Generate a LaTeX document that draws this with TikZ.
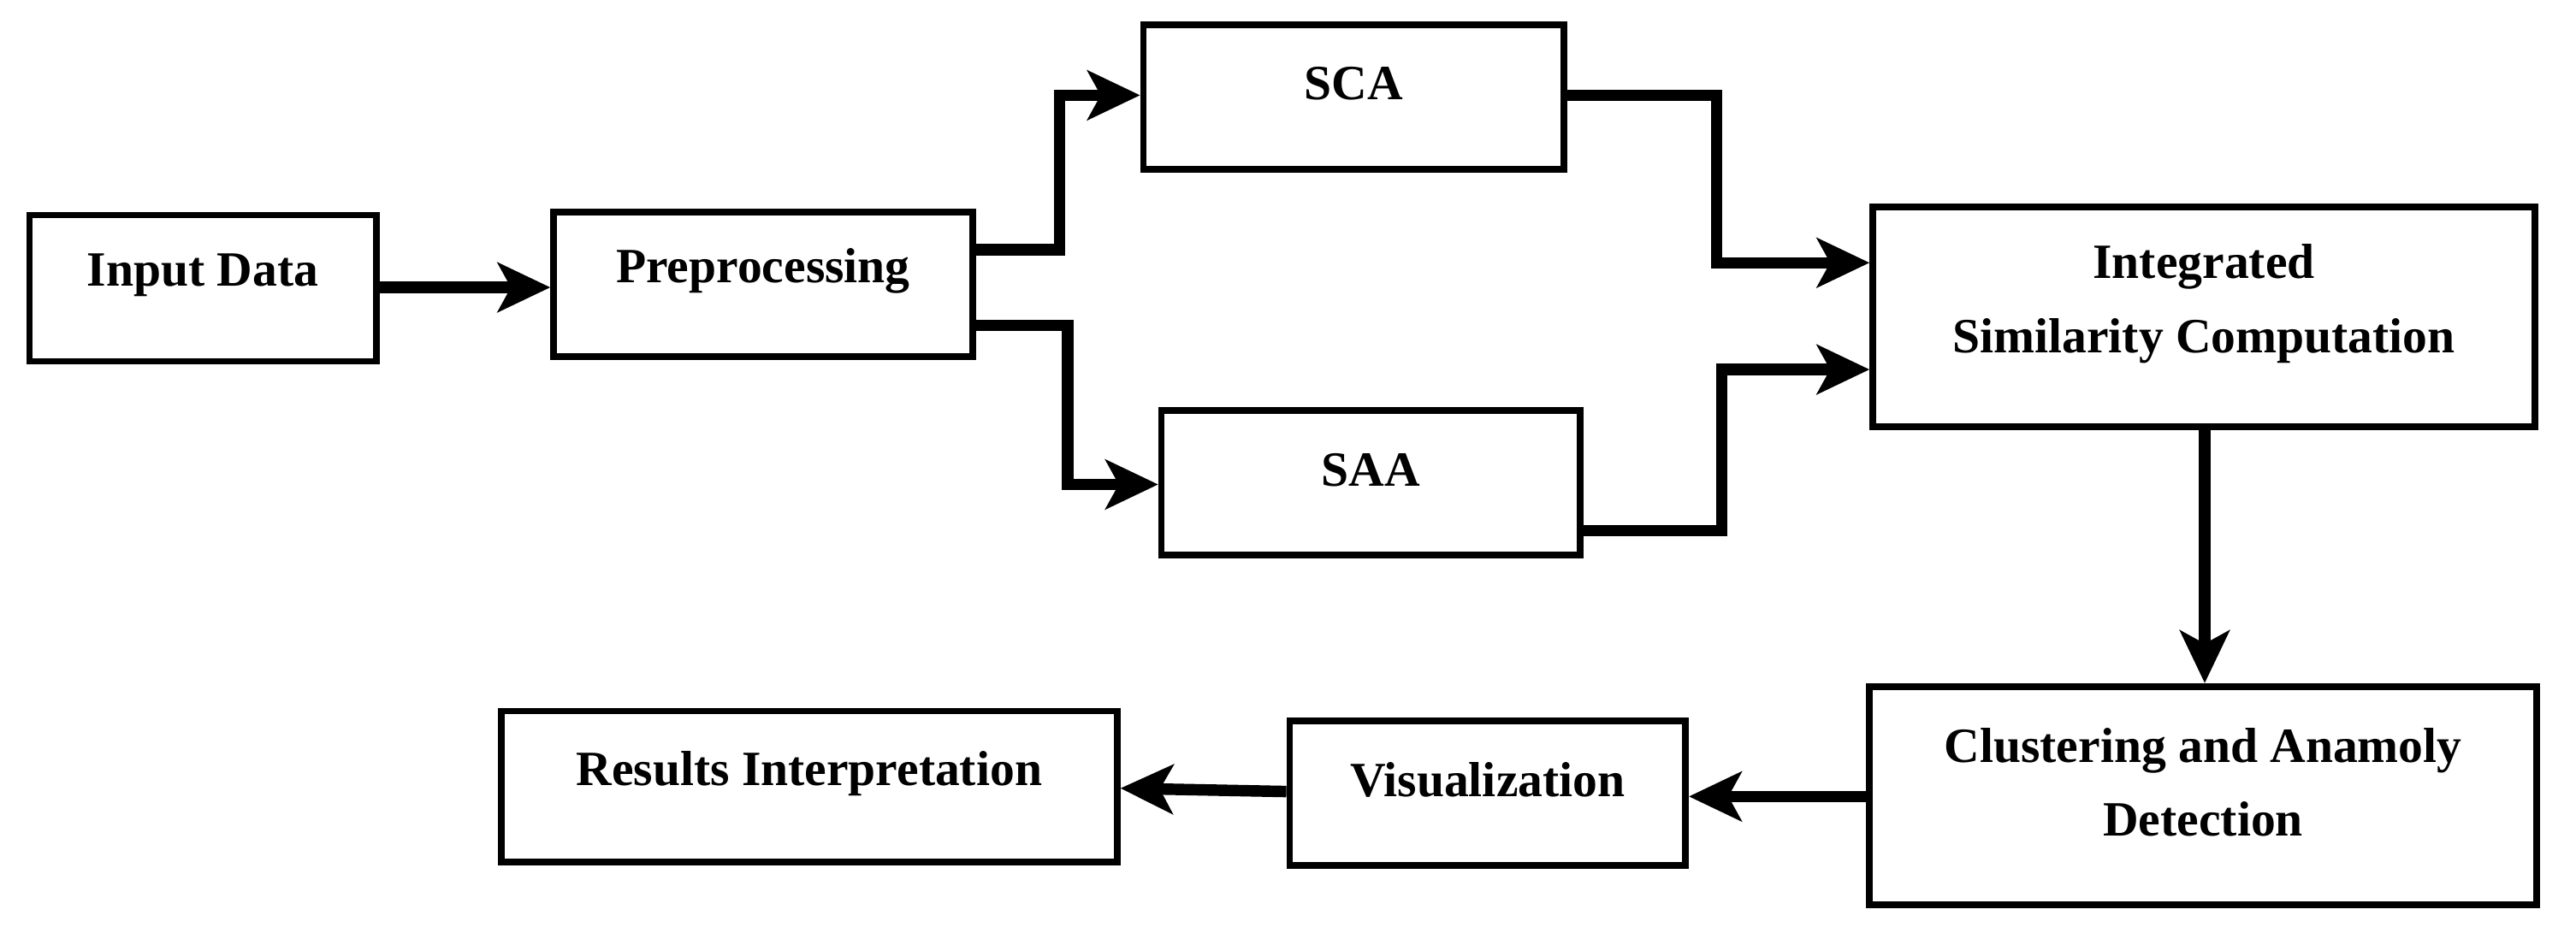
\documentclass[tikz,border=0pt]{standalone}
\usepackage{fontspec}
\setmainfont{Liberation Serif}
\usetikzlibrary{arrows.meta}
\begin{document}
\begin{tikzpicture}[x=0.5pt,y=-0.5pt,
 box/.style={draw,line width=2pt,inner sep=0pt},
 txt/.style={font=\bfseries\fontsize{15}{22.5}\selectfont,align=center,inner sep=0pt},
 ar/.style={line width=3.5pt,-{Stealth[length=16pt,width=15pt,inset=4pt]}}]
\useasboundingbox (0,0) rectangle (1568,568);
\def\bx#1#2#3#4#5#6{\node[box,minimum width=(#4-#2)*0.5pt,minimum height=(#5-#3)*0.5pt] (#1) at ({(#2+#4)/2},{(#3+#5)/2}) {};
 \node[txt] (#1t) at ([yshift=4pt]#1.center) {#6};}
\bx{in}{18}{131}{229}{220}{Input Data}
\bx{pre}{337}{129}{592}{217}{Preprocessing}
\bx{sca}{696}{15}{952}{103}{SCA}
\bx{saa}{707}{250}{962}{338}{SAA}
\bx{int}{1140}{126}{1543}{260}{Integrated\\Similarity Computation}
\bx{clu}{1138}{418}{1544}{551}{Clustering and Anamoly\\Detection}
\bx{vis}{785}{439}{1026}{527}{Visualization}
\bx{res}{305}{433}{680}{525}{Results Interpretation}
\draw[ar] (in.east|-0,175) -- (pre.west|-0,175);
\draw[ar] (pre.east|-0,152) -| (645,58) -- (sca.west|-0,58);
\draw[ar] (pre.east|-0,198) -| (650,295) -- (saa.west|-0,295);
\draw[ar] (sca.east|-0,58) -| (1045,160) -- (int.west|-0,160);
\draw[ar] (saa.east|-0,323) -| (1048,225) -- (int.west|-0,225);
\draw[ar] (int.south-|1342,0) -- (clu.north-|1342,0);
\draw[ar] (clu.west|-0,485) -- (vis.east|-0,485);
\draw[ar] (vis.west|-0,482) -- (res.east|-0,480);
\end{tikzpicture}
\end{document}
